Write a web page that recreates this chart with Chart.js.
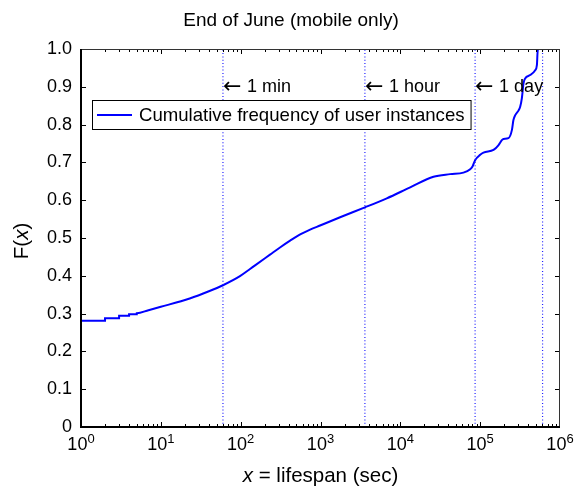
<!DOCTYPE html>
<html>
<head>
<meta charset="utf-8">
<script src="https://cdn.jsdelivr.net/npm/chart.js@4.4.1/dist/chart.umd.min.js"></script>
<style>
  html, body { margin: 0; padding: 0; background: #fff; }
  #wrap { width: 575px; height: 489px; }
</style>
</head>
<body>
<div id="wrap"><canvas id="cdfChart" width="575" height="489"></canvas></div>
<script>
// lifespan in seconds and the cumulative frequency
const lifespan = [1, 2, 2, 3, 3, 4, 4, 5, 5, 7, 10, 23, 40, 60, 98, 131, 150, 233, 311, 416, 530, 741, 988,
  1760, 3600, 6770, 13300, 26000, 42000, 61700, 75000, 80500, 86500, 100000, 110000, 147000, 170000,
  187000, 196000, 226000, 250000, 261000, 275000, 302000, 317000, 333000, 349000, 366000, 423000,
  489000, 514000, 523000, 540000];
const cdf = [0.281, 0.281, 0.288, 0.288, 0.294, 0.294, 0.298, 0.298, 0.301, 0.309, 0.318, 0.340, 0.359,
  0.375, 0.399, 0.418, 0.427, 0.456, 0.475, 0.493, 0.507, 0.522, 0.533, 0.555, 0.581, 0.605, 0.634, 0.662,
  0.669, 0.673, 0.682, 0.690, 0.706, 0.720, 0.726, 0.733, 0.746, 0.759, 0.762, 0.764, 0.786, 0.812,
  0.825, 0.837, 0.847, 0.870, 0.909, 0.922, 0.931, 0.944, 0.958, 0.990, 1.010];

// reference time marks (1 min, 1 hour, 1 day, 1 week)
const markerSecs = [60, 3600, 86400, 604800];
const markerLabels = ['1 min', '1 hour', '1 day', ''];

const yTicks = [0, 0.1, 0.2, 0.3, 0.4, 0.5, 0.6, 0.7, 0.8, 0.9, 1.0];
const xDecades = [0, 1, 2, 3, 4, 5, 6];

const titleText = 'End of June (mobile only)';
const seriesLabel = 'Cumulative frequency of user instances';

const FONT = '"Liberation Sans", Arial, Helvetica, sans-serif';

const curve = lifespan.map((v, i) => ({ x: v, y: cdf[i] }));

const markerSets = markerSecs.map(s => ({
    label: '',
    data: [{ x: s, y: 0 }, { x: s, y: 1 }],
    borderColor: '#2020ff',
    borderWidth: 1.2,
    borderDash: [1, 2.3],
    pointRadius: 0,
    showLine: true
}));

// draws box, inward tick marks, custom labels, legend and annotations
const decorations = {
    id: 'decorations',
    afterDraw(chart) {
        const { ctx, chartArea: a, scales: { x, y } } = chart;
        ctx.save();

        // tick marks
        ctx.strokeStyle = '#000';
        ctx.lineWidth = 1;
        ctx.beginPath();
        yTicks.forEach(v => {
            const py = Math.round(y.getPixelForValue(v)) + 0.5;
            ctx.moveTo(a.left, py); ctx.lineTo(a.left + 5, py);
            ctx.moveTo(a.right, py); ctx.lineTo(a.right - 5, py);
        });
        for (let d = 0; d < 6; d++) {
            for (let m = 1; m <= 9; m++) {
                const px = Math.round(x.getPixelForValue(m * Math.pow(10, d))) + 0.5;
                const len = m === 1 ? 5 : 3;
                ctx.moveTo(px, a.bottom); ctx.lineTo(px, a.bottom - len);
                ctx.moveTo(px, a.top); ctx.lineTo(px, a.top + len);
            }
        }
        ctx.stroke();

        // frame
        ctx.strokeStyle = '#333';
        ctx.lineWidth = 1;
        ctx.strokeRect(a.left + 0.5, a.top + 0.5, a.right - a.left - 1, a.bottom - a.top - 1);
        ctx.strokeStyle = '#000';
        ctx.lineWidth = 2;
        ctx.beginPath();
        ctx.moveTo(a.left, a.top);
        ctx.lineTo(a.left, a.bottom);
        ctx.lineTo(a.right, a.bottom);
        ctx.stroke();

        // x tick labels 10^n
        ctx.fillStyle = '#000';
        ctx.textBaseline = 'alphabetic';
        xDecades.forEach(n => {
            const px = x.getPixelForValue(Math.pow(10, n));
            ctx.font = '18px ' + FONT;
            const wb = ctx.measureText('10').width;
            ctx.font = '13px ' + FONT;
            const we = ctx.measureText(String(n)).width;
            const start = px - (wb + we) / 2;
            ctx.font = '18px ' + FONT;
            ctx.textAlign = 'left';
            ctx.fillText('10', start, a.bottom + 23);
            ctx.font = '13px ' + FONT;
            ctx.fillText(String(n), start + wb, a.bottom + 16);
        });

        // x axis title with italic x
        drawParts(ctx, [['italic ', 'x'], ['', ' = lifespan (sec)']], (a.left + a.right) / 2, a.bottom + 49);

        // y axis title F(x)
        ctx.save();
        ctx.translate(22, (a.top + a.bottom) / 2 + 3);
        ctx.rotate(-Math.PI / 2);
        drawParts(ctx, [['', 'F('], ['italic ', 'x'], ['', ')']], 0, 0);
        ctx.restore();

        // title
        ctx.font = '19px ' + FONT;
        ctx.textAlign = 'center';
        ctx.textBaseline = 'middle';
        ctx.fillText(titleText, 291, 21);

        // annotations at F = 0.9
        ctx.textAlign = 'left';
        markerSecs.forEach((s, i) => {
            if (!markerLabels[i]) return;
            const px = x.getPixelForValue(s);
            const py = y.getPixelForValue(0.9);
            ctx.font = '22px "DejaVu Sans", ' + FONT;
            ctx.fillText('\u2190', px, py);
            ctx.font = '18px ' + FONT;
            ctx.fillText(markerLabels[i], px + 24, py);
        });

        // legend
        ctx.font = '18.6px ' + FONT;
        const tw = ctx.measureText(seriesLabel).width;
        const lx = a.left + 11, ly = a.top + 51;
        const lw = 47 + tw + 6, lh = 29;
        ctx.fillStyle = '#fff';
        ctx.fillRect(lx, ly, lw, lh);
        ctx.strokeStyle = '#000';
        ctx.lineWidth = 1;
        ctx.strokeRect(lx + 0.5, ly + 0.5, lw, lh);
        ctx.strokeStyle = '#0000ff';
        ctx.lineWidth = 2;
        ctx.beginPath();
        ctx.moveTo(lx + 5, ly + 15);
        ctx.lineTo(lx + 40, ly + 15);
        ctx.stroke();
        ctx.fillStyle = '#000';
        ctx.textBaseline = 'middle';
        ctx.fillText(seriesLabel, lx + 47, ly + 15.5);

        ctx.restore();
    }
};

function drawParts(ctx, parts, cx, cy) {
    let total = 0;
    parts.forEach(p => { ctx.font = p[0] + '20.5px ' + FONT; total += ctx.measureText(p[1]).width; });
    let cur = cx - total / 2;
    ctx.textAlign = 'left';
    ctx.textBaseline = 'middle';
    ctx.fillStyle = '#000';
    parts.forEach(p => {
        ctx.font = p[0] + '20.5px ' + FONT;
        ctx.fillText(p[1], cur, cy);
        cur += ctx.measureText(p[1]).width;
    });
}

const ctx = document.getElementById('cdfChart').getContext('2d');
new Chart(ctx, {
    type: 'scatter',
    data: {
        datasets: markerSets.concat([{
            label: seriesLabel,
            data: curve,
            borderColor: '#0000ff',
            borderWidth: 2,
            pointRadius: 0,
            showLine: true,
            cubicInterpolationMode: 'monotone'
        }])
    },
    options: {
        responsive: false,
        animation: false,
        devicePixelRatio: 1,
        layout: { padding: { left: 0, top: 49, right: 15, bottom: 0 } },
        plugins: {
            legend: { display: false },
            tooltip: { enabled: false },
            title: { display: false }
        },
        scales: {
            x: {
                type: 'logarithmic',
                min: 1,
                max: 1e6,
                grid: { display: false, drawTicks: false },
                border: { display: false },
                ticks: { display: false },
                afterFit: scale => { scale.height = 62; }
            },
            y: {
                min: 0,
                max: 1,
                grid: { display: false, drawTicks: false },
                border: { display: false },
                afterBuildTicks: scale => { scale.ticks = yTicks.map(v => ({ value: v })); },
                ticks: {
                    padding: 9,
                    color: '#000',
                    font: { family: FONT, size: 18 },
                    callback: v => v === 0 ? '0' : v.toFixed(1)
                },
                afterFit: scale => { scale.width = 81; }
            }
        }
    },
    plugins: [decorations]
});
</script>
</body>
</html>
